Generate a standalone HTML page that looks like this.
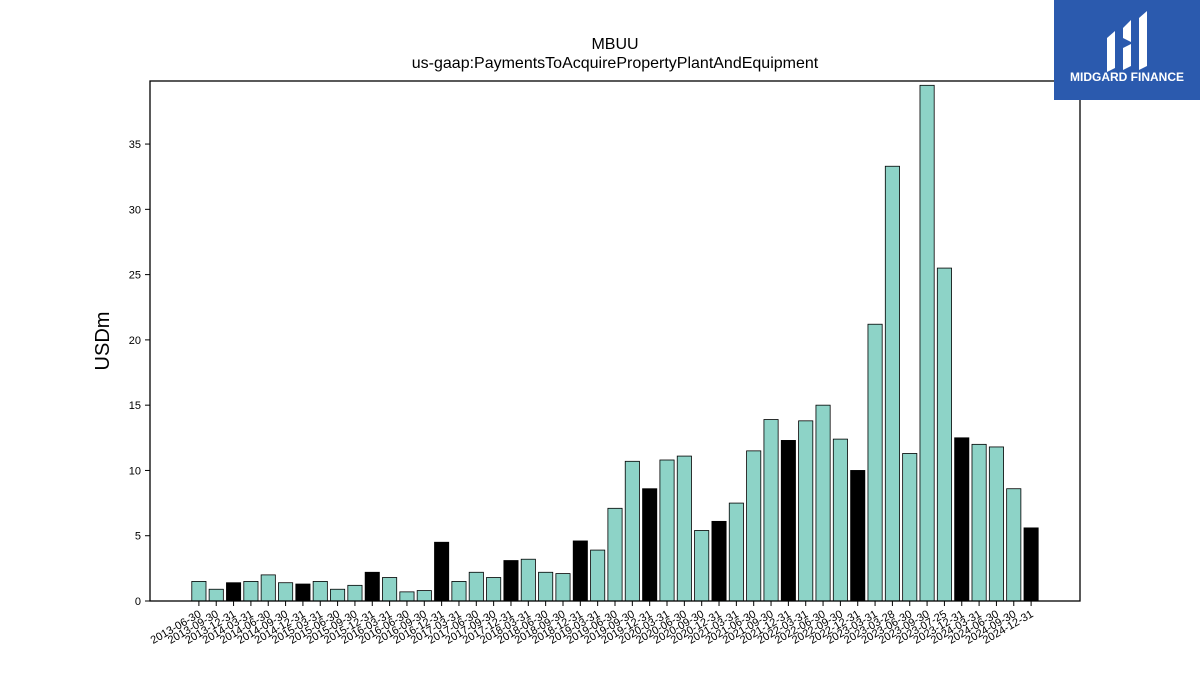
<!DOCTYPE html>
<html><head><meta charset="utf-8">
<style>
body{margin:0;background:#fff;}
svg{display:block;font-family:"Liberation Sans","DejaVu Sans",sans-serif;}
</style></head>
<body>
<svg id="chart" width="1200" height="675" viewBox="0 0 1200 675">
<text x="615" y="49" text-anchor="middle" font-size="16">MBUU</text>
<text x="615" y="68" text-anchor="middle" font-size="16">us-gaap:PaymentsToAcquirePropertyPlantAndEquipment</text>
<text transform="translate(109,341) rotate(-90)" text-anchor="middle" font-size="20">USDm</text>
<g id="bars"></g>
<g id="yticks"></g>
<g id="xticks"></g>
<rect x="150" y="81" width="930" height="520" fill="none" stroke="#000" stroke-width="1.3"/>
<g>
<rect x="1054" y="0" width="146" height="100" fill="#2b5aae"/>
<path d="M1107 38 L1115 31 L1115 68 L1107 72 Z" fill="#fff"/>
<path d="M1123 28 L1131 20 L1131 42 L1123 38 Z M1123 48 L1131 44 L1131 66 L1123 70 Z" fill="#fff"/>
<path d="M1139 18 L1147 11 L1147 66 L1139 70 Z" fill="#fff"/>
<text x="1127" y="81" text-anchor="middle" font-size="12" font-weight="bold" fill="#fff">MIDGARD FINANCE</text>
</g>
</svg>
<script>
const categories=["2013-06-30","2013-09-30","2013-12-31","2014-03-31","2014-06-30","2014-09-30","2014-12-31","2015-03-31","2015-06-30","2015-09-30","2015-12-31","2016-03-31","2016-06-30","2016-09-30","2016-12-31","2017-03-31","2017-06-30","2017-09-30","2017-12-31","2018-03-31","2018-06-30","2018-09-30","2018-12-31","2019-03-31","2019-06-30","2019-09-30","2019-12-31","2020-03-31","2020-06-30","2020-09-30","2020-12-31","2021-03-31","2021-06-30","2021-09-30","2021-12-31","2022-03-31","2022-06-30","2022-09-30","2022-12-31","2023-03-31","2023-03-28","2023-06-30","2023-09-30","2023-07-25","2023-12-31","2024-03-31","2024-06-30","2024-09-30","2024-12-31"];
const values=[1.5,0.9,1.4,1.5,2.0,1.4,1.3,1.5,0.9,1.2,2.2,1.8,0.7,0.8,4.5,1.5,2.2,1.8,3.1,3.2,2.2,2.1,4.6,3.9,7.1,10.7,8.6,10.8,11.1,5.4,6.1,7.5,11.5,13.9,12.3,13.8,15.0,12.4,10.0,21.2,33.3,11.3,39.5,25.5,12.5,12.0,11.8,8.6,5.6];
const yTicks=[0,5,10,15,20,25,30,35];
const NS="http://www.w3.org/2000/svg";
const x0=150,x1=1080,yBase=601,yTop=81,yMax=39.83;
const n=categories.length,pad=2.82;
const step=(x1-x0)/(n-1+2*pad);
function xs(i){return x0+(i+pad)*step;}
function ys(v){return yBase-(v/yMax)*(yBase-yTop);}
const gb=document.getElementById('bars'),gy=document.getElementById('yticks'),gx=document.getElementById('xticks');
categories.forEach((c,i)=>{
  const v=values[i],w=step*0.82,cx=xs(i);
  const r=document.createElementNS(NS,'rect');
  r.setAttribute('x',cx-w/2);r.setAttribute('y',ys(v));r.setAttribute('width',w);r.setAttribute('height',yBase-ys(v));
  r.setAttribute('fill',c.endsWith('12-31')?'#000':'#8dd3c7');r.setAttribute('stroke','#000');r.setAttribute('stroke-width','0.8');
  
  
  gb.appendChild(r);
  const t=document.createElementNS(NS,'line');
  t.setAttribute('x1',cx);t.setAttribute('x2',cx);t.setAttribute('y1',yBase);t.setAttribute('y2',yBase+5);t.setAttribute('stroke','#000');
  
  
  gx.appendChild(t);
  const l=document.createElementNS(NS,'text');
  l.setAttribute('transform','translate('+(cx+3)+','+(yBase+15)+') rotate(-30)');
  l.setAttribute('text-anchor','end');l.setAttribute('font-size','11');l.textContent=c;
  
  
  gx.appendChild(l);
});
yTicks.forEach(v=>{
  const y=ys(v);
  const t=document.createElementNS(NS,'line');
  t.setAttribute('x1',x0-5);t.setAttribute('x2',x0);t.setAttribute('y1',y);t.setAttribute('y2',y);t.setAttribute('stroke','#000');
  
  
  gy.appendChild(t);
  const l=document.createElementNS(NS,'text');
  l.setAttribute('x',x0-9);l.setAttribute('y',y+4);l.setAttribute('text-anchor','end');l.setAttribute('font-size','11');l.textContent=v;
  
  
  gy.appendChild(l);
});
</script>
</body></html>
